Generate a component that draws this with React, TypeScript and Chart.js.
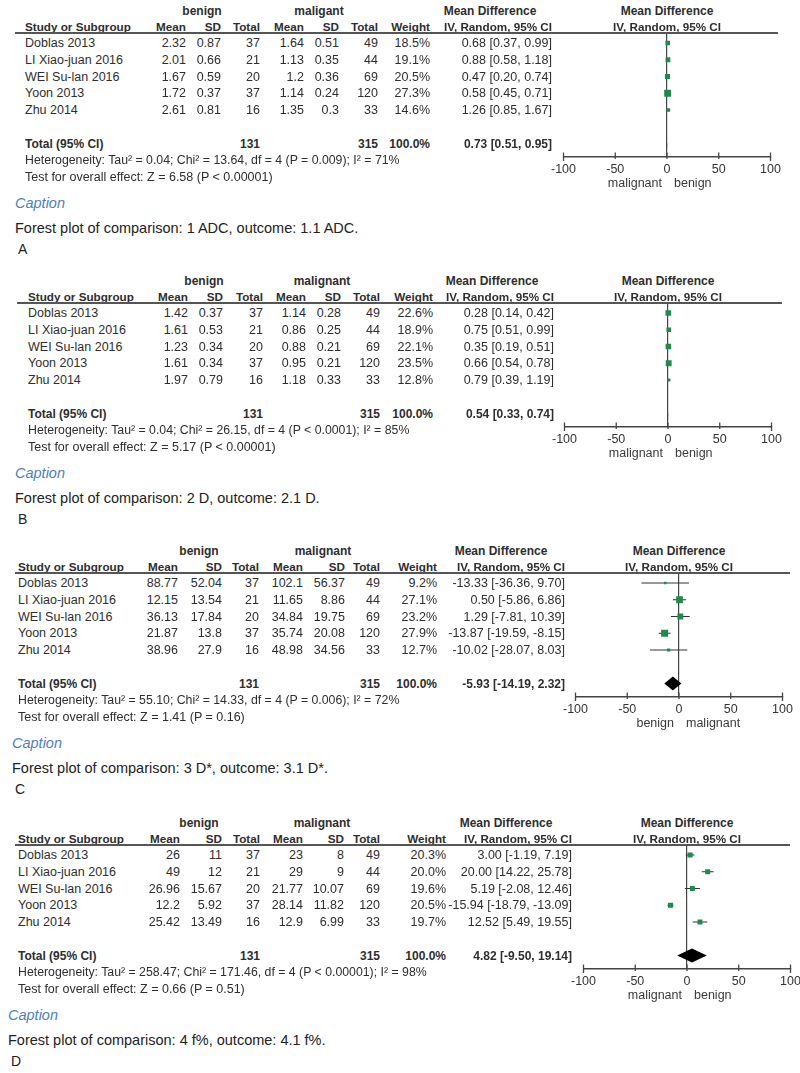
import React, { useEffect, useRef } from "react";
import { Chart, registerables } from "chart.js";
Chart.register(...registerables);

const FONT = '"Liberation Sans", Arial, Helvetica, sans-serif';
Chart.defaults.font.family = FONT;

// ---------- shared data ----------
const STUDIES = ["Doblas 2013", "LI Xiao-juan 2016", "WEI Su-lan 2016", "Yoon 2013", "Zhu 2014"];
const BENIGN_N = [37, 21, 20, 37, 16];
const MALIGNANT_N = [49, 44, 69, 120, 33];
const TOTAL_WEIGHT = 100;
const X_TICKS = [-100, -50, 0, 50, 100];

// ---------- panel A: ADC ----------
const A_BENIGN_MEAN = [2.32, 2.01, 1.67, 1.72, 2.61];
const A_BENIGN_SD = [0.87, 0.66, 0.59, 0.37, 0.81];
const A_MAL_MEAN = [1.64, 1.13, 1.2, 1.14, 1.35];
const A_MAL_SD = [0.51, 0.35, 0.36, 0.24, 0.3];
const A_WEIGHT = [18.5, 19.1, 20.5, 27.3, 14.6];
const A_MD = [0.68, 0.88, 0.47, 0.58, 1.26];
const A_LO = [0.37, 0.58, 0.2, 0.45, 0.85];
const A_HI = [0.99, 1.18, 0.74, 0.71, 1.67];
const A_TOTAL = [0.73, 0.51, 0.95];

// ---------- panel B: D ----------
const B_BENIGN_MEAN = [1.42, 1.61, 1.23, 1.61, 1.97];
const B_BENIGN_SD = [0.37, 0.53, 0.34, 0.34, 0.79];
const B_MAL_MEAN = [1.14, 0.86, 0.88, 0.95, 1.18];
const B_MAL_SD = [0.28, 0.25, 0.21, 0.21, 0.33];
const B_WEIGHT = [22.6, 18.9, 22.1, 23.5, 12.8];
const B_MD = [0.28, 0.75, 0.35, 0.66, 0.79];
const B_LO = [0.14, 0.51, 0.19, 0.54, 0.39];
const B_HI = [0.42, 0.99, 0.51, 0.78, 1.19];
const B_TOTAL = [0.54, 0.33, 0.74];

// ---------- panel C: D* ----------
const C_BENIGN_MEAN = [88.77, 12.15, 36.13, 21.87, 38.96];
const C_BENIGN_SD = [52.04, 13.54, 17.84, 13.8, 27.9];
const C_MAL_MEAN = [102.1, 11.65, 34.84, 35.74, 48.98];
const C_MAL_SD = [56.37, 8.86, 19.75, 20.08, 34.56];
const C_WEIGHT = [9.2, 27.1, 23.2, 27.9, 12.7];
const C_MD = [-13.33, 0.5, 1.29, -13.87, -10.02];
const C_LO = [-36.36, -5.86, -7.81, -19.59, -28.07];
const C_HI = [9.7, 6.86, 10.39, -8.15, 8.03];
const C_TOTAL = [-5.93, -14.19, 2.32];

// ---------- panel D: f% ----------
const D_BENIGN_MEAN = [26, 49, 26.96, 12.2, 25.42];
const D_BENIGN_SD = [11, 12, 15.67, 5.92, 13.49];
const D_MAL_MEAN = [23, 29, 21.77, 28.14, 12.9];
const D_MAL_SD = [8, 9, 10.07, 11.82, 6.99];
const D_WEIGHT = [20.3, 20.0, 19.6, 20.5, 19.7];
const D_MD = [3.0, 20.0, 5.19, -15.94, 12.52];
const D_LO = [-1.19, 14.22, -2.08, -18.79, 5.49];
const D_HI = [7.19, 25.78, 12.46, -13.09, 19.55];
const D_TOTAL = [4.82, -9.5, 19.14];

const GREEN = "#1f8a4c";
const TEXT = "#2e2e2e";

// layout (positions only)
const ROW0 = 43;
const ROW_H = 16.75;
const TOTAL_ROW = 6;

const PANELS = [
  {
    malHeader: "maligant",
    bm: A_BENIGN_MEAN, bs: A_BENIGN_SD, mm: A_MAL_MEAN, ms: A_MAL_SD, w: A_WEIGHT, md: A_MD, lo: A_LO, hi: A_HI, total: A_TOTAL,
    het: "Heterogeneity: Tau\u00b2 = 0.04; Chi\u00b2 = 13.64, df = 4 (P = 0.009); I\u00b2 = 71%",
    test: "Test for overall effect: Z = 6.58 (P < 0.00001)",
    caption: "Forest plot of comparison: 1 ADC, outcome: 1.1 ADC.",
    letter: "A", left: "malignant", right: "benign",
    L: { dy: 0, studyX: 25, cols: [186, 221, 260, 304, 339, 378, 430, 552], benignC: 202, malC: 319, mdC: 490, zero: 667, x0: 15, x1: 778, capX: 15 },
  },
  {
    malHeader: "malignant",
    bm: B_BENIGN_MEAN, bs: B_BENIGN_SD, mm: B_MAL_MEAN, ms: B_MAL_SD, w: B_WEIGHT, md: B_MD, lo: B_LO, hi: B_HI, total: B_TOTAL,
    het: "Heterogeneity: Tau\u00b2 = 0.04; Chi\u00b2 = 26.15, df = 4 (P < 0.0001); I\u00b2 = 85%",
    test: "Test for overall effect: Z = 5.17 (P < 0.00001)",
    caption: "Forest plot of comparison: 2 D, outcome: 2.1 D.",
    letter: "B", left: "malignant", right: "benign",
    L: { dy: 270, studyX: 28, cols: [188, 223, 263, 306, 341, 380, 433, 554], benignC: 204, malC: 322, mdC: 492, zero: 668, x0: 17, x1: 782, capX: 15 },
  },
  {
    malHeader: "malignant",
    bm: C_BENIGN_MEAN, bs: C_BENIGN_SD, mm: C_MAL_MEAN, ms: C_MAL_SD, w: C_WEIGHT, md: C_MD, lo: C_LO, hi: C_HI, total: C_TOTAL,
    het: "Heterogeneity: Tau\u00b2 = 55.10; Chi\u00b2 = 14.33, df = 4 (P = 0.006); I\u00b2 = 72%",
    test: "Test for overall effect: Z = 1.41 (P = 0.16)",
    caption: "Forest plot of comparison: 3 D*, outcome: 3.1 D*.",
    letter: "C", left: "benign", right: "malignant",
    L: { dy: 540, studyX: 18, cols: [178, 222, 259, 303, 345, 380, 437, 565], benignC: 199, malC: 323, mdC: 501, zero: 679, x0: 15, x1: 790, capX: 12 },
  },
  {
    malHeader: "malignant",
    bm: D_BENIGN_MEAN, bs: D_BENIGN_SD, mm: D_MAL_MEAN, ms: D_MAL_SD, w: D_WEIGHT, md: D_MD, lo: D_LO, hi: D_HI, total: D_TOTAL,
    het: "Heterogeneity: Tau\u00b2 = 258.47; Chi\u00b2 = 171.46, df = 4 (P < 0.00001); I\u00b2 = 98%",
    test: "Test for overall effect: Z = 0.66 (P = 0.51)",
    caption: "Forest plot of comparison: 4 f%, outcome: 4.1 f%.",
    letter: "D", left: "malignant", right: "benign",
    L: { dy: 812, studyX: 18, cols: [180, 222, 260, 303, 344, 380, 446, 572], benignC: 199, malC: 322, mdC: 506, zero: 687, x0: 15, x1: 790, capX: 8 },
  },
];

const f2 = (v: number) => v.toFixed(2);
const ciText = (m: number, l: number, h: number) => `${f2(m)} [${f2(l)}, ${f2(h)}]`;
const sum = (a: number[]) => a.reduce((s, v) => s + v, 0);

function T({ x, y, children, align = "left", bold = false, size = 12.5, color = TEXT, italic = false }: any) {
  const tx = align === "left" ? "0" : align === "right" ? "-100%" : "-50%";
  return (
    <div
      style={{
        position: "absolute", left: x, top: y, transform: `translate(${tx},-50%)`,
        whiteSpace: "nowrap", fontFamily: FONT, fontSize: size, fontWeight: bold ? "bold" : "normal",
        fontStyle: italic ? "italic" : "normal", color, lineHeight: 1,
      }}
    >
      {children}
    </div>
  );
}

const CANVAS_HALF = 130;
const AXIS_HALF = 103.5;
const CANVAS_TOP = 20;
const AREA_TOP = 33;
const AXIS_Y = 157;
const AXIS_H = 38;

function ForestChart({ p }: any) {
  const ref = useRef<HTMLCanvasElement>(null);
  useEffect(() => {
    const yMin = -(ROW0 - AREA_TOP) / ROW_H;
    const yMax = (AXIS_Y - ROW0) / ROW_H;
    const half = 7 / ROW_H;
    const [tm, tl, th] = p.total;
    const datasets: any[] = [
      {
        data: p.md.map((m: number, i: number) => ({ x: m, y: i })),
        showLine: false,
        pointStyle: "rect",
        pointRadius: p.w.map((w: number) => Math.max(2.6, 0.25 * w) / Math.SQRT2),
        pointBackgroundColor: GREEN,
        pointBorderWidth: 0,
        pointBorderColor: GREEN,
      },
      ...p.lo.map((l: number, i: number) => ({
        data: [{ x: l, y: i }, { x: p.hi[i], y: i }],
        borderColor: "#333",
        borderWidth: 1,
        pointRadius: 0,
      })),
      {
        data: [
          { x: tl, y: TOTAL_ROW },
          { x: tm, y: TOTAL_ROW - half },
          { x: th, y: TOTAL_ROW },
          { x: tm, y: TOTAL_ROW + half },
          { x: tl, y: TOTAL_ROW },
        ],
        borderColor: "rgba(0,0,0,0)",
        backgroundColor: "#000",
        borderWidth: 1,
        fill: "shape",
        pointRadius: 0,
      },
    ];
    const axisPlugin = {
      id: "forestAxis",
      afterDraw(chart: any) {
        const ctx = chart.ctx;
        const xs = chart.scales.x;
        const ay = chart.chartArea.bottom;
        ctx.save();
        ctx.strokeStyle = "#444";
        ctx.lineWidth = 1.3;
        xs.ticks.forEach((t: any, i: number) => {
          const px = xs.getPixelForValue(t.value);
          const end = i === 0 || i === xs.ticks.length - 1;
          ctx.beginPath();
          ctx.moveTo(px, ay - 4.5);
          ctx.lineTo(px, ay + (end ? 4 : 2));
          ctx.stroke();
        });
        const z = xs.getPixelForValue(0);
        const y = ay + 27;
        ctx.font = `12.5px ${FONT}`;
        ctx.fillStyle = "#3a3a3a";
        ctx.textBaseline = "middle";
        ctx.textAlign = "right";
        ctx.fillText(p.left, z - 5, y);
        ctx.textAlign = "left";
        ctx.fillText(p.right, z + 7, y);
        ctx.restore();
      },
    };
    const chart = new Chart(ref.current as HTMLCanvasElement, {
      type: "line",
      data: { datasets },
      plugins: [axisPlugin],
      options: {
        responsive: false,
        animation: false,
        events: [],
        layout: { padding: { left: CANVAS_HALF - AXIS_HALF, right: CANVAS_HALF - AXIS_HALF, top: AREA_TOP - CANVAS_TOP, bottom: 0 } },
        plugins: { legend: { display: false }, tooltip: { enabled: false } },
        scales: {
          x: {
            type: "linear",
            min: -100,
            max: 100,
            position: "bottom",
            afterBuildTicks: (s: any) => { s.ticks = X_TICKS.map((v) => ({ value: v })); },
            afterFit: (s: any) => { s.height = AXIS_H; },
            ticks: { font: { size: 12.5, family: FONT }, color: "#333", padding: 5, maxRotation: 0, autoSkip: false },
            grid: {
              color: (c: any) => (c.tick && c.tick.value === 0 ? "#444" : "rgba(0,0,0,0)"),
              lineWidth: 1.2,
              drawTicks: false,
            },
            border: { display: true, color: "#444", width: 1.5 },
          },
          y: { type: "linear", display: false, reverse: true, min: yMin, max: yMax },
        },
      } as any,
    });
    return () => chart.destroy();
  }, [p]);
  const h = AREA_TOP - CANVAS_TOP + (AXIS_Y - AREA_TOP) + AXIS_H;
  return (
    <canvas
      ref={ref}
      width={CANVAS_HALF * 2}
      height={h}
      style={{ position: "absolute", left: p.L.zero - CANVAS_HALF, top: CANVAS_TOP, width: CANVAS_HALF * 2, height: h }}
    />
  );
}

function Panel({ p }: any) {
  const L = p.L;
  const c = L.cols;
  const headers = ["Mean", "SD", "Total", "Mean", "SD", "Total", "Weight", "IV, Random, 95% CI"];
  return (
    <div style={{ position: "absolute", left: 0, top: L.dy, width: 800, height: 270 }}>
      <ForestChart p={p} />
      <T x={L.benignC} y={11} align="center" bold size={12}>benign</T>
      <T x={L.malC} y={11} align="center" bold size={12}>{p.malHeader}</T>
      <T x={L.mdC} y={11} align="center" bold size={12}>Mean Difference</T>
      <T x={L.zero} y={11} align="center" bold size={12}>Mean Difference</T>
      <T x={L.studyX} y={26.5} bold size={11.7}>Study or Subgroup</T>
      {headers.map((h, i) => (
        <T key={i} x={c[i]} y={26.5} align="right" bold size={11.7}>{h}</T>
      ))}
      <T x={L.zero} y={26.5} align="center" bold size={11.7}>IV, Random, 95% CI</T>
      <div style={{ position: "absolute", left: L.x0, top: 32, width: L.x1 - L.x0, height: 1.5, background: "#555" }} />
      {STUDIES.map((s, i) => {
        const y = ROW0 + ROW_H * i;
        const vals = [
          String(p.bm[i]), String(p.bs[i]), String(BENIGN_N[i]),
          String(p.mm[i]), String(p.ms[i]), String(MALIGNANT_N[i]),
          p.w[i].toFixed(1) + "%", ciText(p.md[i], p.lo[i], p.hi[i]),
        ];
        return (
          <React.Fragment key={s}>
            <T x={L.studyX} y={y}>{s}</T>
            {vals.map((v, j) => (
              <T key={j} x={c[j]} y={y} align="right">{v}</T>
            ))}
          </React.Fragment>
        );
      })}
      <T x={L.studyX} y={143.5} bold size={12}>Total (95% CI)</T>
      <T x={c[2]} y={143.5} align="right" bold size={12}>{String(sum(BENIGN_N))}</T>
      <T x={c[5]} y={143.5} align="right" bold size={12}>{String(sum(MALIGNANT_N))}</T>
      <T x={c[6]} y={143.5} align="right" bold size={12}>{TOTAL_WEIGHT.toFixed(1) + "%"}</T>
      <T x={c[7]} y={143.5} align="right" bold size={12}>{ciText(p.total[0], p.total[1], p.total[2])}</T>
      <T x={L.studyX} y={160} size={12.3}>{p.het}</T>
      <T x={L.studyX} y={177}>{p.test}</T>
      <T x={L.capX} y={203} italic size={14.5} color="#4f7fba">Caption</T>
      <T x={L.capX} y={228} size={14.5} color="#222">{p.caption}</T>
      <T x={L.capX + 3} y={249} size={14} color="#222">{p.letter}</T>
    </div>
  );
}

export default function App() {
  return (
    <div style={{ position: "absolute", left: 0, top: 0, width: 800, height: 1073, overflow: "hidden", background: "#fff" }}>
      {PANELS.map((p) => (
        <Panel key={p.letter} p={p} />
      ))}
    </div>
  );
}
